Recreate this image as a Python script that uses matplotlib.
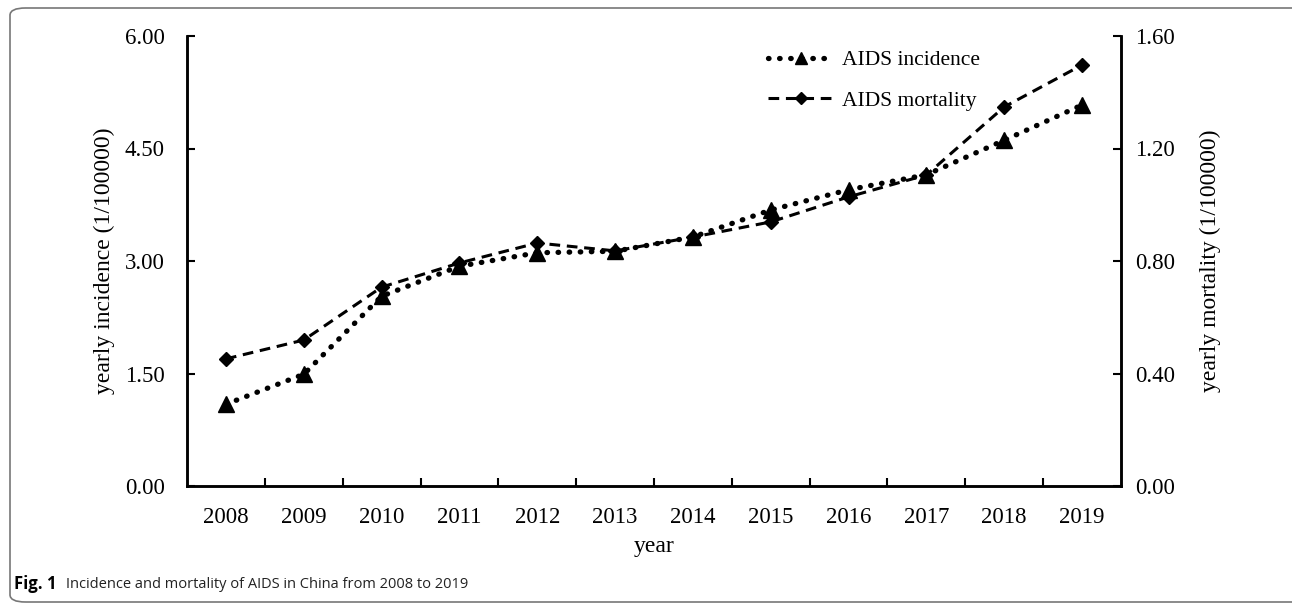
import matplotlib.pyplot as plt
from matplotlib.patches import FancyBboxPatch
from matplotlib.lines import Line2D
import numpy as np

years = ['2008', '2009', '2010', '2011', '2012', '2013',
         '2014', '2015', '2016', '2017', '2018', '2019']
incidence = [1.09, 1.49, 2.53, 2.93, 3.11, 3.13, 3.32, 3.68, 3.95, 4.15, 4.61, 5.08]
mortality = [0.452, 0.519, 0.707, 0.793, 0.864, 0.836, 0.885, 0.939, 1.028, 1.106, 1.348, 1.497]

left_ticks = [0.0, 1.5, 3.0, 4.5, 6.0]
right_ticks = [0.0, 0.4, 0.8, 1.2, 1.6]

serif = 'Liberation Serif'

fig = plt.figure(figsize=(12.92, 6.05), dpi=100)
ax = fig.add_axes([187 / 1292, 1 - 486 / 605, (1121 - 187) / 1292, (486 - 36) / 605])
ax2 = ax.twinx()

x = np.arange(len(years))
ax.plot(x, incidence, color='black', linestyle=(0, (0.1, 2.0)), linewidth=3.8,
        dash_capstyle='round', marker='^', markersize=11, zorder=3)
ax2.plot(x, mortality, color='black', linestyle=(0, (3.5, 2.2)), linewidth=2.2,
         marker='D', markersize=7, zorder=3)

ax.set_xlim(-0.5, len(years) - 0.5)
ax.set_ylim(0, 6)
ax2.set_ylim(0, 1.6)
ax.set_yticks(left_ticks)
ax.set_yticklabels(['%.2f' % v for v in left_ticks], fontfamily=serif, fontsize=16.5)
ax2.set_yticks(right_ticks)
ax2.set_yticklabels(['%.2f' % v for v in right_ticks], fontfamily=serif, fontsize=16.5)

# category labels at centres, tick marks between categories
ax.set_xticks(x)
ax.set_xticklabels(years, fontfamily=serif, fontsize=16.5)
ax.tick_params(axis='x', length=0, pad=15)
ax.set_xticks(np.arange(0.5, len(years) - 0.5), minor=True)
ax.tick_params(axis='x', which='minor', direction='in', length=6, width=1.5)
ax.tick_params(axis='y', direction='in', length=6, width=1.5, pad=16)
ax2.tick_params(axis='y', direction='in', length=6, width=1.5, pad=10)

for a in (ax, ax2):
    for s in a.spines.values():
        s.set_linewidth(1.8)
    a.spines['top'].set_visible(False)

ax.set_xlabel('year', fontfamily=serif, fontsize=17, labelpad=6)
ax.set_ylabel('yearly incidence (1/100000)', fontfamily=serif, fontsize=17, labelpad=7)
ax2.set_ylabel('yearly mortality (1/100000)', fontfamily=serif, fontsize=17, labelpad=18)

handles = [
    Line2D([], [], color='black', linestyle=(0, (0.1, 2.0)), linewidth=3.8,
           dash_capstyle='round', marker='^', markersize=9),
    Line2D([], [], color='black', linestyle=(0, (3.5, 2.2)), linewidth=2.2,
           marker='D', markersize=6),
]
leg = ax2.legend(handles, ['AIDS incidence', 'AIDS mortality'], loc='upper left',
                 bbox_to_anchor=((749 - 187) / 934, 1.012), frameon=False,
                 handlelength=3.0, handletextpad=0.4, labelspacing=0.95,
                 prop={'family': serif, 'size': 15.5})

# rounded border and caption
frame = FancyBboxPatch((10 / 1292, 3 / 605), 1.2, 594 / 605,
                       boxstyle='round,pad=0,rounding_size=0.012',
                       transform=fig.transFigure, facecolor='none',
                       edgecolor='#777777', linewidth=1.2, clip_on=False)
fig.patches.append(frame)
fig.text(14 / 1292, 1 - 584 / 605, 'Fig. 1', fontfamily='Open Sans',
         fontweight='bold', fontsize=12, va='center')
fig.text(66 / 1292, 1 - 584 / 605, 'Incidence and mortality of AIDS in China from 2008 to 2019',
         fontfamily='Open Sans', fontsize=10.5, va='center', color='#222222')

fig.savefig('out.png', dpi=100)
